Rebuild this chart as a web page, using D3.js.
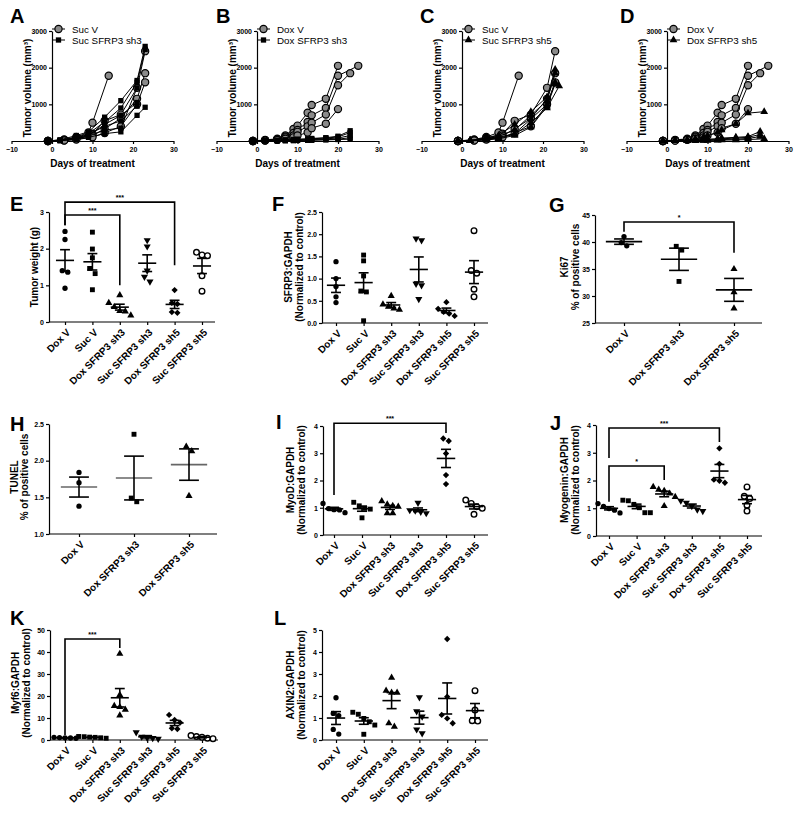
<!DOCTYPE html>
<html>
<head>
<meta charset="utf-8">
<script src="https://cdn.jsdelivr.net/npm/d3@7"></script>
<style>
body { margin: 0; background: #fff; }
svg { font-family: Arial, "Liberation Sans", sans-serif; }
</style>
</head>
<body>
<svg id="fig" width="800" height="816"></svg>
<script>
// ---- growth curves (day, volume mm3) ----
var sucV = [
  [[-1,0],[3,40],[6,110],[9,230],[10,500],[14,1780]],
  [[-1,0],[3,30],[6,80],[10,200],[13,550],[17,720],[21,1450],[23,2450]],
  [[-1,0],[3,20],[6,60],[10,150],[13,330],[17,620],[21,1150],[23,1850]],
  [[-1,0],[3,15],[6,40],[10,100],[13,220],[17,400],[21,1000],[23,1600]]
]
var sucSh3 = [
  [[-1,0],[2,30],[6,150],[9,250],[13,650],[17,1100],[21,1650],[23,2580]],
  [[-1,0],[2,20],[6,100],[9,200],[13,520],[17,900],[21,1600],[23,2500]],
  [[-1,0],[2,10],[6,60],[9,150],[13,450],[17,700],[21,1050]],
  [[-1,0],[2,10],[6,40],[9,100],[13,200],[17,250],[21,700],[23,920]],
  [[-1,0],[2,20],[6,80],[9,180],[13,400],[17,550],[21,950]],
  [[-1,0],[2,15],[6,70],[9,130],[13,300],[17,350],[21,1450]]
]
var sucSh5 = [
  [[-1,0],[2,20],[6,80],[9,150],[13,450],[17,800],[21,1200],[23,1950]],
  [[-1,0],[2,15],[6,60],[9,120],[13,300],[17,700],[21,1100],[23,1850]],
  [[-1,0],[2,10],[6,50],[9,100],[13,200],[17,600],[21,1000],[23,1600]],
  [[-1,0],[2,10],[6,40],[9,80],[13,180],[17,500],[21,900],[24,1500]],
  [[-1,0],[2,5],[6,30],[9,60],[13,150],[17,380],[21,950],[23,1550]]
]
var doxV = [
  [[-1,0],[2,30],[5,60],[7,150],[9,330],[10,420],[12.5,770],[13.5,980],[17,1150],[20,2050]],
  [[-1,0],[2,20],[5,50],[7,120],[9,220],[10,300],[12.5,520],[13.5,700],[17,900],[20,1780],[25,2050]],
  [[-1,0],[2,20],[5,40],[7,100],[9,150],[10,250],[12.5,400],[13.5,500],[17,720],[20,1520],[23,1850]],
  [[-1,0],[2,10],[5,30],[7,60],[9,100],[10,150],[12.5,230],[13.5,350],[17,470],[20,870]]
]
var doxSh3 = [
  [[-1,0],[2,10],[5,20],[7,30],[9,40],[10,50],[12.5,60],[13.5,70],[17,90],[20,130],[23,280]],
  [[-1,0],[2,10],[5,15],[7,25],[9,30],[10,40],[12.5,50],[13.5,60],[17,80],[20,110],[23,230]],
  [[-1,0],[2,5],[5,10],[7,15],[9,20],[10,30],[12.5,35],[13.5,40],[17,60],[20,80],[23,150]],
  [[-1,0],[2,5],[5,10],[7,10],[9,15],[10,20],[12.5,25],[13.5,30],[17,40],[20,50],[23,90]],
  [[-1,0],[2,5],[5,5],[7,10],[9,10],[10,15],[12.5,20],[13.5,20],[17,30],[20,40],[23,50]]
]
var doxSh5 = [
  [[-1,0],[2,10],[5,30],[7,60],[9,110],[10,150],[12.5,230],[13.5,300],[17,470],[20,760],[24,800]],
  [[-1,0],[2,10],[5,20],[7,30],[9,40],[10,50],[12.5,60],[13.5,80],[17,100],[20,120],[23,260]],
  [[-1,0],[2,5],[5,10],[7,20],[9,30],[10,40],[12.5,50],[13.5,60],[17,80],[20,100],[23,180]],
  [[-1,0],[2,5],[5,10],[7,15],[9,20],[10,25],[12.5,30],[13.5,40],[17,50],[20,70],[23,120]],
  [[-1,0],[2,5],[5,5],[7,10],[9,10],[10,15],[12.5,20],[13.5,25],[17,30],[20,40],[24,60]]
]
var dayTicks = [-10, 0, 10, 20, 30]
var volumeTicks = [1000, 2000, 3000]

// ---- dot plots ----
var catsSix = ["Dox V", "Suc V", "Dox SFRP3 sh3", "Suc SFRP3 sh3", "Dox SFRP3 sh5", "Suc SFRP3 sh5"]
var catsThree = ["Dox V", "Dox SFRP3 sh3", "Dox SFRP3 sh5"]
var tumorWeight = [[2.47,2.25,1.40,1.36,0.92],[2.45,1.99,1.75,1.46,1.32,0.88],[0.73,0.52,0.41,0.30,0.29,0.18],[2.23,2.06,1.40,1.23,1.10],[0.87,0.52,0.49,0.27,0.25],[1.90,1.83,1.81,1.26,0.84]]
var sfrp3 = [[1.38,1.00,0.82,0.59,0.46],[1.53,1.40,1.06,0.72,0.70,0.05],[0.61,0.42,0.37,0.33,0.30],[1.90,1.86,0.88,0.85,0.54],[0.47,0.32,0.25,0.21,0.16],[2.08,1.18,1.12,0.76,0.59]]
var ki67 = [[41.0,39.9,39.3],[39.2,38.5,32.7],[35.0,30.7,27.7]]
var tunel = [[1.84,1.70,1.38],[2.36,1.49,1.44],[2.19,2.13,1.52]]
var myod = [[1.16,0.97,0.93,0.92,0.82],[1.20,1.07,0.98,0.95,0.63],[1.24,1.12,1.07,1.04,0.80,0.80],[1.18,0.91,0.89,0.85,0.80],[3.54,3.45,2.99,2.20,1.87],[1.28,1.16,1.04,0.98,0.76]]
var myogenin = [[1.17,1.07,0.99,0.93,0.83],[1.29,1.27,1.14,1.02,0.84,0.84],[1.77,1.67,1.63,1.53,1.41,1.08],[1.27,1.20,1.08,0.95,0.90],[3.16,2.60,2.03,1.99,1.92],[1.77,1.43,1.35,1.11,0.90]]
var myf6 = [[1.2,1.0,0.9,0.8,1.1],[1.6,1.5,1.3,1.2,1.0,0.8],[39.2,20.5,15.5,15.0,13.8,11.2],[3.5,1.5,1.0,0.8,0.5],[11.4,9.1,7.9,5.3,5.0],[2.0,1.6,1.2,0.8,0.6]]
var axin2 = [[1.92,1.21,1.11,0.48,0.27],[1.26,1.17,0.98,0.83,0.68,0.26],[2.83,2.24,2.15,2.15,0.76,0.61],[1.94,1.30,1.06,0.48,0.30],[4.59,1.97,1.14,0.98,0.76],[2.24,1.36,0.88,0.86]]

var svg = d3.select("#fig")

function marker(g, type, x, y) {
  if (type == "gcircle") {
    g.append("circle").attr("cx", x).attr("cy", y).attr("r", 3.6)
      .attr("fill", "#8a8a8a").attr("stroke", "#000").attr("stroke-width", 1.2)
    return
  }
  if (type == "open") {
    g.append("circle").attr("cx", x).attr("cy", y).attr("r", 2.8)
      .attr("fill", "#fff").attr("stroke", "#000").attr("stroke-width", 1.4)
    return
  }
  var sym = d3.symbolCircle, size = 22, rot = 0
  if (type == "square") { sym = d3.symbolSquare; size = 24 }
  if (type == "tri") { sym = d3.symbolTriangle; size = 22 }
  if (type == "triDown") { sym = d3.symbolTriangle; size = 22; rot = 180 }
  if (type == "diamond") { sym = d3.symbolSquare; size = 20; rot = 45 }
  if (type == "gsquare") { sym = d3.symbolSquare; size = 28 }
  if (type == "gtri") { sym = d3.symbolTriangle; size = 26 }
  g.append("path").attr("d", d3.symbol(sym, size)())
    .attr("transform", "translate(" + x + "," + y + ") rotate(" + rot + ")")
    .attr("fill", "#000")
}

function styleAxis(g) {
  g.selectAll("path, line").attr("stroke", "#000").attr("stroke-width", 1.2)
  g.selectAll("text").attr("font-size", 7).attr("font-weight", "bold").attr("fill", "#000")
    .attr("font-family", "Arial, 'Liberation Sans', sans-serif")
}

function letter(txt, x, y) {
  svg.append("text").attr("x", x).attr("y", y).text(txt)
    .attr("font-size", 20).attr("font-weight", "bold")
}

// ---- growth panel ----
function growthPanel(o) {
  var g = svg.append("g")
  var x = d3.scaleLinear().domain([-10, 30]).range([o.ax - 40.5, o.ax + 121.5])
  var y = d3.scaleLinear().domain([0, 3000]).range([141, 31])

  var xa = g.append("g").attr("transform", "translate(0,141)")
    .call(d3.axisBottom(x).tickValues(dayTicks).tickSize(3).tickSizeOuter(0).tickPadding(3))
  styleAxis(xa)
  var ya = g.append("g").attr("transform", "translate(" + o.ax + ",0)")
    .call(d3.axisLeft(y).tickValues(volumeTicks).tickFormat(d3.format("d")).tickSize(3).tickSizeOuter(0).tickPadding(2))
  styleAxis(ya)

  var line = d3.line().x(function(d) { return x(d[0]) }).y(function(d) { return y(d[1]) })
  o.groups.forEach(function(grp) {
    grp.curves.forEach(function(c) {
      g.append("path").attr("d", line(c)).attr("fill", "none")
        .attr("stroke", "#000").attr("stroke-width", 1)
      c.forEach(function(p) { marker(g, grp.sym, x(p[0]), y(p[1])) })
    })
  })

  // legend
  o.groups.forEach(function(grp, i) {
    var ly = 29 + i * 11
    g.append("line").attr("x1", o.ax).attr("x2", o.ax + 13).attr("y1", ly).attr("y2", ly)
      .attr("stroke", "#000").attr("stroke-width", 1)
    marker(g, grp.sym, o.ax + 6.5, ly)
    g.append("text").attr("x", o.ax + 20).attr("y", ly + 3.5).text(grp.name)
      .attr("font-size", 9.8)
  })

  g.append("text").attr("transform", "translate(" + (o.ax - 21) + ",88) rotate(-90)")
    .attr("text-anchor", "middle").attr("font-size", 10).attr("font-weight", "bold")
    .text("Tumor volume (mm³)")
  g.append("text").attr("x", x(10)).attr("y", 167).attr("text-anchor", "middle")
    .attr("font-size", 10).attr("font-weight", "bold").text("Days of treatment")
  letter(o.letter, o.lx, 23)
}

growthPanel({ letter: "A", lx: 10, ax: 52, groups: [
  { name: "Suc V", sym: "gcircle", curves: sucV },
  { name: "Suc SFRP3 sh3", sym: "gsquare", curves: sucSh3 }] })
growthPanel({ letter: "B", lx: 216, ax: 257, groups: [
  { name: "Dox V", sym: "gcircle", curves: doxV },
  { name: "Dox SFRP3 sh3", sym: "gsquare", curves: doxSh3 }] })
growthPanel({ letter: "C", lx: 420, ax: 462, groups: [
  { name: "Suc V", sym: "gcircle", curves: sucV },
  { name: "Suc SFRP3 sh5", sym: "gtri", curves: sucSh5 }] })
growthPanel({ letter: "D", lx: 620, ax: 667, groups: [
  { name: "Dox V", sym: "gcircle", curves: doxV },
  { name: "Dox SFRP3 sh5", sym: "gtri", curves: doxSh5 }] })

// ---- dot panel ----
function dodge(vals, y, sep) {
  var idx = vals.map(function(v, i) { return i }).sort(function(a, b) { return vals[b] - vals[a] })
  var off = vals.map(function() { return 0 })
  var cluster = [idx[0]]
  function flush() {
    var n = cluster.length
    cluster.forEach(function(k, j) { off[k] = (j - (n - 1) / 2) * sep })
  }
  for (var i = 1; i < idx.length; i++) {
    if (Math.abs(y(vals[idx[i]]) - y(vals[cluster[cluster.length - 1]])) < sep) cluster.push(idx[i])
    else { flush(); cluster = [idx[i]] }
  }
  flush()
  return off
}

function dotPanel(o) {
  var g = svg.append("g")
  var y = d3.scaleLinear().domain(o.domain).range([o.bottom, o.top])
  var x = d3.scalePoint().domain(o.cats).range([o.first, o.first + o.step * (o.cats.length - 1)])
  var syms = o.syms || ["circle", "square", "tri", "triDown", "diamond", "open"]

  var ya = g.append("g").attr("transform", "translate(" + o.ax + ",0)")
    .call(d3.axisLeft(y).tickValues(o.ticks).tickFormat(o.fmt).tickSize(3).tickSizeOuter(0).tickPadding(2))
  styleAxis(ya)
  var xa = g.append("g").attr("transform", "translate(0," + o.bottom + ")")
    .call(d3.axisBottom(x).tickSize(3).tickSizeOuter(0).tickFormat(""))
  styleAxis(xa)
  xa.select(".domain").attr("d", "M" + o.ax + ",0H" + o.end)

  g.selectAll(".cat").data(o.cats).join("text")
    .attr("transform", function(d) { return "translate(" + (x(d) + 6) + "," + (o.bottom + 11) + ") rotate(-45)" })
    .attr("text-anchor", "end").attr("font-size", 10).attr("font-weight", "bold").text(function(d) { return d })

  o.cats.forEach(function(c, i) {
    var vals = o.data[i]
    var cx = x(c)
    var off = dodge(vals, y, 5.5)
    vals.forEach(function(v, j) { marker(g, syms[i], cx + off[j], y(v)) })
    var m = d3.mean(vals), se = d3.deviation(vals) / Math.sqrt(vals.length)
    var mw = o.step * 0.33, cw = o.step * 0.18
    g.append("line").attr("x1", cx - mw).attr("x2", cx + mw).attr("y1", y(m)).attr("y2", y(m))
      .attr("stroke", o.meanColor || "#000").attr("stroke-width", 1.6)
    g.append("line").attr("x1", cx).attr("x2", cx).attr("y1", y(m - se)).attr("y2", y(m + se))
      .attr("stroke", "#000").attr("stroke-width", 1.6)
    ;[m - se, m + se].forEach(function(v) {
      g.append("line").attr("x1", cx - cw).attr("x2", cx + cw).attr("y1", y(v)).attr("y2", y(v))
        .attr("stroke", "#000").attr("stroke-width", 1.6)
    })
  })

  ;(o.brackets || []).forEach(function(b) {
    var x1 = x(o.cats[b.from]), x2 = x(o.cats[b.to])
    g.append("path").attr("d", "M" + x1 + "," + y(b.l) + "V" + y(b.at) + "H" + x2 + "V" + y(b.r))
      .attr("fill", "none").attr("stroke", "#000").attr("stroke-width", 1.6)
    g.append("text").attr("x", (x1 + x2) / 2).attr("y", y(b.at) - 2).attr("text-anchor", "middle")
      .attr("font-size", 7).attr("font-weight", "bold").text(b.label)
  })

  o.titles.forEach(function(t, i) {
    g.append("text").attr("transform", "translate(" + o.tx[i] + "," + o.ty + ") rotate(-90)")
      .attr("text-anchor", "middle").attr("font-size", 10).attr("font-weight", "bold").text(t)
  })
  letter(o.letter, o.lx, o.ly)
}

var f1 = d3.format(".1f"), f0 = d3.format("d")

dotPanel({ letter: "E", lx: 10, ly: 211, ax: 49, top: 212, bottom: 322, domain: [0, 3], ticks: [0, 1, 2, 3], fmt: f0,
  cats: catsSix, data: tumorWeight, first: 65, step: 27.4, end: 215,
  titles: ["Tumor weight (g)"], tx: [38], ty: 267,
  brackets: [{ from: 0, to: 4, at: 3.27, l: 2.64, r: 1.55, label: "***" },
             { from: 0, to: 2, at: 2.92, l: 2.64, r: 1.0, label: "***" }] })
dotPanel({ letter: "F", lx: 272, ly: 211, ax: 322, top: 212, bottom: 323, domain: [0, 2.5], ticks: [0, 0.5, 1, 1.5, 2, 2.5], fmt: f1,
  cats: catsSix, data: sfrp3, first: 336, step: 27.6, end: 488,
  titles: ["SFRP3:GAPDH", "(Normalized to control)"], tx: [292, 303], ty: 267 })
dotPanel({ letter: "G", lx: 549, ly: 212, ax: 595, top: 215, bottom: 323, domain: [25, 45], ticks: [25, 30, 35, 40, 45], fmt: f0,
  cats: catsThree, data: ki67, first: 624, step: 55, end: 762, syms: ["circle", "square", "tri"],
  titles: ["Ki67", "% of positive cells"], tx: [568, 579], ty: 267,
  brackets: [{ from: 0, to: 2, at: 43.7, l: 41.9, r: 38.0, label: "*" }] })
dotPanel({ letter: "H", lx: 10, ly: 431, ax: 49, top: 424, bottom: 534, domain: [1, 2.5], ticks: [1, 1.5, 2, 2.5], fmt: f1,
  cats: catsThree, data: tunel, first: 79, step: 55, end: 217, syms: ["circle", "square", "tri"], meanColor: "#666",
  titles: ["TUNEL", "% of positive cells"], tx: [18, 28], ty: 477 })
dotPanel({ letter: "I", lx: 276, ly: 429, ax: 323, top: 426, bottom: 535, domain: [0, 4], ticks: [0, 1, 2, 3, 4], fmt: f0,
  cats: catsSix, data: myod, first: 334, step: 28, end: 488,
  titles: ["MyoD:GAPDH", "(Normalized to control)"], tx: [294, 305], ty: 480,
  brackets: [{ from: 0, to: 4, at: 4.1, l: 1.47, r: 3.74, label: "***" }] })
dotPanel({ letter: "J", lx: 550, ly: 430, ax: 596, top: 425, bottom: 536, domain: [0, 4], ticks: [0, 1, 2, 3, 4], fmt: f0,
  cats: catsSix, data: myogenin, first: 609, step: 27.6, end: 762,
  titles: ["Myogenin:GAPDH", "(Normalized to control)"], tx: [568, 579], ty: 480,
  brackets: [{ from: 0, to: 4, at: 3.89, l: 2.81, r: 3.39, label: "***" },
             { from: 0, to: 2, at: 2.52, l: 1.23, r: 2.02, label: "*" }] })
dotPanel({ letter: "K", lx: 10, ly: 625, ax: 50, top: 630, bottom: 740, domain: [0, 50], ticks: [0, 10, 20, 30, 40, 50], fmt: f0,
  cats: catsSix, data: myf6, first: 65, step: 27.4, end: 218,
  titles: ["Myf6:GAPDH", "(Normalized to control)"], tx: [19, 30], ty: 683,
  brackets: [{ from: 0, to: 2, at: 45.9, l: 2.3, r: 41.8, label: "***" }] })
dotPanel({ letter: "L", lx: 274, ly: 625, ax: 322, top: 630, bottom: 740, domain: [0, 5], ticks: [0, 1, 2, 3, 4, 5], fmt: f0,
  cats: catsSix, data: axin2, first: 336, step: 27.8, end: 488,
  titles: ["AXIN2:GAPDH", "(Normalized to control)"], tx: [294, 305], ty: 685 })
</script>
</body>
</html>
